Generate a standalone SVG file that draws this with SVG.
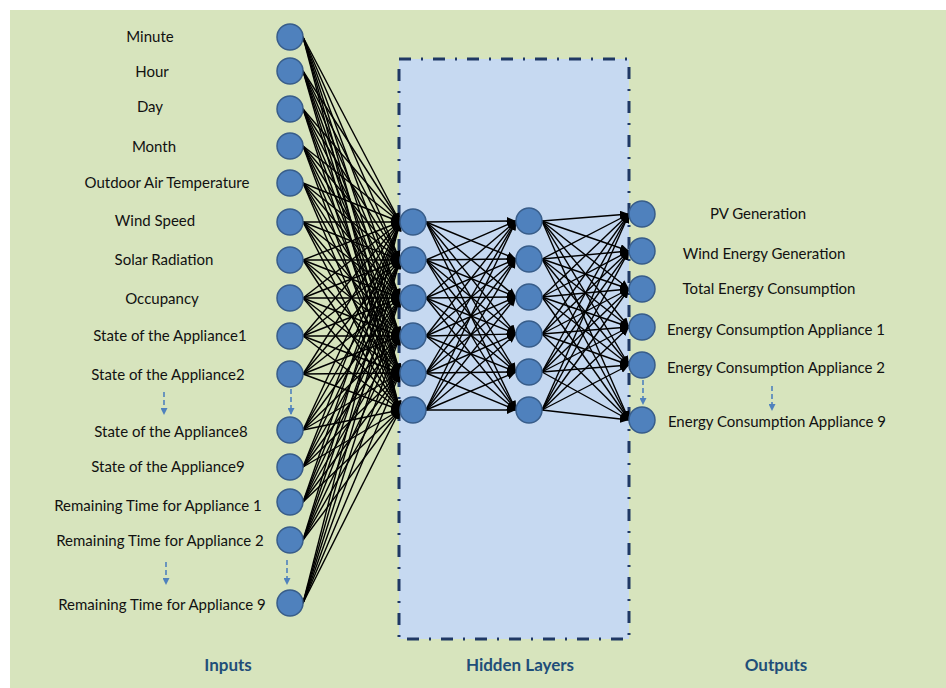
<svg xmlns="http://www.w3.org/2000/svg" width="946" height="688" viewBox="0 0 946 688">
<style>
.lbl{font-family:Lato,"Open Sans","Liberation Sans",sans-serif;font-size:15px;fill:#111;text-anchor:middle}
.ttl{font-family:Lato,"Open Sans","Liberation Sans",sans-serif;font-size:17px;font-weight:bold;fill:#1f4e79;text-anchor:middle}
.n{fill:#4f81bd;stroke:#385d8a;stroke-width:1.5}
.c line{stroke:#000;stroke-width:1.4;marker-end:url(#ah)}
.d{stroke:#4f81bd;stroke-width:1.6;stroke-dasharray:5 3;marker-end:url(#bh)}
</style>
<defs>
<marker id="ah" markerUnits="userSpaceOnUse" markerWidth="9" markerHeight="8" refX="9" refY="4" orient="auto"><path d="M0,0 L9,4 L0,8 z" fill="#000"/></marker>
<marker id="bh" markerUnits="userSpaceOnUse" markerWidth="7" markerHeight="7" refX="6" refY="3.5" orient="auto"><path d="M0,0 L7,3.5 L0,7 z" fill="#4f81bd"/></marker>
</defs>
<rect x="0" y="0" width="946" height="688" fill="#fff"/>
<rect x="10" y="10" width="936" height="678" fill="#d7e4bd"/>
<rect id="hidden-box" x="399" y="59" width="230" height="580" fill="#c6d9f1" stroke="#1f3864" stroke-width="3" stroke-dasharray="12 10 2 10"/>
<g id="connectors" class="c">
<line x1="303" y1="37" x2="400" y2="222"/><line x1="303" y1="37" x2="400" y2="260"/><line x1="303" y1="37" x2="400" y2="298"/><line x1="303" y1="37" x2="400" y2="336"/><line x1="303" y1="37" x2="400" y2="373"/><line x1="303" y1="37" x2="400" y2="410"/>
<line x1="303" y1="71" x2="400" y2="222"/><line x1="303" y1="71" x2="400" y2="260"/><line x1="303" y1="71" x2="400" y2="298"/><line x1="303" y1="71" x2="400" y2="336"/><line x1="303" y1="71" x2="400" y2="373"/><line x1="303" y1="71" x2="400" y2="410"/>
<line x1="303" y1="109" x2="400" y2="222"/><line x1="303" y1="109" x2="400" y2="260"/><line x1="303" y1="109" x2="400" y2="298"/><line x1="303" y1="109" x2="400" y2="336"/><line x1="303" y1="109" x2="400" y2="373"/><line x1="303" y1="109" x2="400" y2="410"/>
<line x1="303" y1="146" x2="400" y2="222"/><line x1="303" y1="146" x2="400" y2="260"/><line x1="303" y1="146" x2="400" y2="298"/><line x1="303" y1="146" x2="400" y2="336"/><line x1="303" y1="146" x2="400" y2="373"/><line x1="303" y1="146" x2="400" y2="410"/>
<line x1="303" y1="183" x2="400" y2="222"/><line x1="303" y1="183" x2="400" y2="260"/><line x1="303" y1="183" x2="400" y2="298"/><line x1="303" y1="183" x2="400" y2="336"/><line x1="303" y1="183" x2="400" y2="373"/><line x1="303" y1="183" x2="400" y2="410"/>
<line x1="303" y1="222" x2="400" y2="222"/><line x1="303" y1="222" x2="400" y2="260"/><line x1="303" y1="222" x2="400" y2="298"/><line x1="303" y1="222" x2="400" y2="336"/><line x1="303" y1="222" x2="400" y2="373"/><line x1="303" y1="222" x2="400" y2="410"/>
<line x1="303" y1="260" x2="400" y2="222"/><line x1="303" y1="260" x2="400" y2="260"/><line x1="303" y1="260" x2="400" y2="298"/><line x1="303" y1="260" x2="400" y2="336"/><line x1="303" y1="260" x2="400" y2="373"/><line x1="303" y1="260" x2="400" y2="410"/>
<line x1="303" y1="298" x2="400" y2="222"/><line x1="303" y1="298" x2="400" y2="260"/><line x1="303" y1="298" x2="400" y2="298"/><line x1="303" y1="298" x2="400" y2="336"/><line x1="303" y1="298" x2="400" y2="373"/><line x1="303" y1="298" x2="400" y2="410"/>
<line x1="303" y1="336" x2="400" y2="222"/><line x1="303" y1="336" x2="400" y2="260"/><line x1="303" y1="336" x2="400" y2="298"/><line x1="303" y1="336" x2="400" y2="336"/><line x1="303" y1="336" x2="400" y2="373"/><line x1="303" y1="336" x2="400" y2="410"/>
<line x1="303" y1="374" x2="400" y2="222"/><line x1="303" y1="374" x2="400" y2="260"/><line x1="303" y1="374" x2="400" y2="298"/><line x1="303" y1="374" x2="400" y2="336"/><line x1="303" y1="374" x2="400" y2="373"/><line x1="303" y1="374" x2="400" y2="410"/>
<line x1="303" y1="430" x2="400" y2="222"/><line x1="303" y1="430" x2="400" y2="260"/><line x1="303" y1="430" x2="400" y2="298"/><line x1="303" y1="430" x2="400" y2="336"/><line x1="303" y1="430" x2="400" y2="373"/><line x1="303" y1="430" x2="400" y2="410"/>
<line x1="303" y1="467" x2="400" y2="222"/><line x1="303" y1="467" x2="400" y2="260"/><line x1="303" y1="467" x2="400" y2="298"/><line x1="303" y1="467" x2="400" y2="336"/><line x1="303" y1="467" x2="400" y2="373"/><line x1="303" y1="467" x2="400" y2="410"/>
<line x1="303" y1="502" x2="400" y2="222"/><line x1="303" y1="502" x2="400" y2="260"/><line x1="303" y1="502" x2="400" y2="298"/><line x1="303" y1="502" x2="400" y2="336"/><line x1="303" y1="502" x2="400" y2="373"/><line x1="303" y1="502" x2="400" y2="410"/>
<line x1="303" y1="540" x2="400" y2="222"/><line x1="303" y1="540" x2="400" y2="260"/><line x1="303" y1="540" x2="400" y2="298"/><line x1="303" y1="540" x2="400" y2="336"/><line x1="303" y1="540" x2="400" y2="373"/><line x1="303" y1="540" x2="400" y2="410"/>
<line x1="303" y1="603" x2="400" y2="222"/><line x1="303" y1="603" x2="400" y2="260"/><line x1="303" y1="603" x2="400" y2="298"/><line x1="303" y1="603" x2="400" y2="336"/><line x1="303" y1="603" x2="400" y2="373"/><line x1="303" y1="603" x2="400" y2="410"/>
<line x1="426" y1="222" x2="516" y2="221"/><line x1="426" y1="222" x2="516" y2="259"/><line x1="426" y1="222" x2="516" y2="297"/><line x1="426" y1="222" x2="516" y2="334"/><line x1="426" y1="222" x2="516" y2="372"/><line x1="426" y1="222" x2="516" y2="410"/>
<line x1="426" y1="260" x2="516" y2="221"/><line x1="426" y1="260" x2="516" y2="259"/><line x1="426" y1="260" x2="516" y2="297"/><line x1="426" y1="260" x2="516" y2="334"/><line x1="426" y1="260" x2="516" y2="372"/><line x1="426" y1="260" x2="516" y2="410"/>
<line x1="426" y1="298" x2="516" y2="221"/><line x1="426" y1="298" x2="516" y2="259"/><line x1="426" y1="298" x2="516" y2="297"/><line x1="426" y1="298" x2="516" y2="334"/><line x1="426" y1="298" x2="516" y2="372"/><line x1="426" y1="298" x2="516" y2="410"/>
<line x1="426" y1="336" x2="516" y2="221"/><line x1="426" y1="336" x2="516" y2="259"/><line x1="426" y1="336" x2="516" y2="297"/><line x1="426" y1="336" x2="516" y2="334"/><line x1="426" y1="336" x2="516" y2="372"/><line x1="426" y1="336" x2="516" y2="410"/>
<line x1="426" y1="373" x2="516" y2="221"/><line x1="426" y1="373" x2="516" y2="259"/><line x1="426" y1="373" x2="516" y2="297"/><line x1="426" y1="373" x2="516" y2="334"/><line x1="426" y1="373" x2="516" y2="372"/><line x1="426" y1="373" x2="516" y2="410"/>
<line x1="426" y1="410" x2="516" y2="221"/><line x1="426" y1="410" x2="516" y2="259"/><line x1="426" y1="410" x2="516" y2="297"/><line x1="426" y1="410" x2="516" y2="334"/><line x1="426" y1="410" x2="516" y2="372"/><line x1="426" y1="410" x2="516" y2="410"/>
<line x1="542" y1="221" x2="629" y2="214"/><line x1="542" y1="221" x2="629" y2="251"/><line x1="542" y1="221" x2="629" y2="289"/><line x1="542" y1="221" x2="629" y2="327"/><line x1="542" y1="221" x2="629" y2="365"/><line x1="542" y1="221" x2="629" y2="420"/>
<line x1="542" y1="259" x2="629" y2="214"/><line x1="542" y1="259" x2="629" y2="251"/><line x1="542" y1="259" x2="629" y2="289"/><line x1="542" y1="259" x2="629" y2="327"/><line x1="542" y1="259" x2="629" y2="365"/><line x1="542" y1="259" x2="629" y2="420"/>
<line x1="542" y1="297" x2="629" y2="214"/><line x1="542" y1="297" x2="629" y2="251"/><line x1="542" y1="297" x2="629" y2="289"/><line x1="542" y1="297" x2="629" y2="327"/><line x1="542" y1="297" x2="629" y2="365"/><line x1="542" y1="297" x2="629" y2="420"/>
<line x1="542" y1="334" x2="629" y2="214"/><line x1="542" y1="334" x2="629" y2="251"/><line x1="542" y1="334" x2="629" y2="289"/><line x1="542" y1="334" x2="629" y2="327"/><line x1="542" y1="334" x2="629" y2="365"/><line x1="542" y1="334" x2="629" y2="420"/>
<line x1="542" y1="372" x2="629" y2="214"/><line x1="542" y1="372" x2="629" y2="251"/><line x1="542" y1="372" x2="629" y2="289"/><line x1="542" y1="372" x2="629" y2="327"/><line x1="542" y1="372" x2="629" y2="365"/><line x1="542" y1="372" x2="629" y2="420"/>
<line x1="542" y1="410" x2="629" y2="214"/><line x1="542" y1="410" x2="629" y2="251"/><line x1="542" y1="410" x2="629" y2="289"/><line x1="542" y1="410" x2="629" y2="327"/><line x1="542" y1="410" x2="629" y2="365"/><line x1="542" y1="410" x2="629" y2="420"/>
</g>
<g id="continuation-arrows">
<line class="d" x1="164" y1="392" x2="164" y2="414"/>
<line class="d" x1="291" y1="389" x2="291" y2="414"/>
<line class="d" x1="166" y1="562" x2="166" y2="584"/>
<line class="d" x1="287" y1="560" x2="287" y2="584"/>
<line class="d" x1="643" y1="380" x2="643" y2="404"/>
<line class="d" x1="772" y1="386" x2="772" y2="410"/>
</g>
<g id="in-minute"><circle class="n" cx="290" cy="37" r="13"/><text class="lbl" x="150" y="42">Minute</text></g>
<g id="in-hour"><circle class="n" cx="290" cy="71" r="13"/><text class="lbl" x="152" y="77">Hour</text></g>
<g id="in-day"><circle class="n" cx="290" cy="109" r="13"/><text class="lbl" x="150" y="112">Day</text></g>
<g id="in-month"><circle class="n" cx="290" cy="146" r="13"/><text class="lbl" x="154" y="152">Month</text></g>
<g id="in-temp"><circle class="n" cx="290" cy="183" r="13"/><text class="lbl" x="167" y="188">Outdoor Air Temperature</text></g>
<g id="in-wind"><circle class="n" cx="290" cy="222" r="13"/><text class="lbl" x="155" y="226">Wind Speed</text></g>
<g id="in-solar"><circle class="n" cx="290" cy="260" r="13"/><text class="lbl" x="164" y="265">Solar Radiation</text></g>
<g id="in-occ"><circle class="n" cx="290" cy="298" r="13"/><text class="lbl" x="162" y="304">Occupancy</text></g>
<g id="in-st1"><circle class="n" cx="290" cy="336" r="13"/><text class="lbl" x="170" y="341">State of the Appliance1</text></g>
<g id="in-st2"><circle class="n" cx="290" cy="374" r="13"/><text class="lbl" x="168" y="380">State of the Appliance2</text></g>
<g id="in-st8"><circle class="n" cx="290" cy="430" r="13"/><text class="lbl" x="171" y="437">State of the Appliance8</text></g>
<g id="in-st9"><circle class="n" cx="290" cy="467" r="13"/><text class="lbl" x="168" y="472">State of the Appliance9</text></g>
<g id="in-rt1"><circle class="n" cx="290" cy="502" r="13"/><text class="lbl" x="158" y="511">Remaining Time for Appliance 1</text></g>
<g id="in-rt2"><circle class="n" cx="290" cy="540" r="13"/><text class="lbl" x="160" y="546">Remaining Time for Appliance 2</text></g>
<g id="in-rt9"><circle class="n" cx="290" cy="603" r="13"/><text class="lbl" x="162" y="610">Remaining Time for Appliance 9</text></g>
<g id="h1-1"><circle class="n" cx="413" cy="222" r="13"/></g>
<g id="h1-2"><circle class="n" cx="413" cy="260" r="13"/></g>
<g id="h1-3"><circle class="n" cx="413" cy="298" r="13"/></g>
<g id="h1-4"><circle class="n" cx="413" cy="336" r="13"/></g>
<g id="h1-5"><circle class="n" cx="413" cy="373" r="13"/></g>
<g id="h1-6"><circle class="n" cx="413" cy="410" r="13"/></g>
<g id="h2-1"><circle class="n" cx="529" cy="221" r="13"/></g>
<g id="h2-2"><circle class="n" cx="529" cy="259" r="13"/></g>
<g id="h2-3"><circle class="n" cx="529" cy="297" r="13"/></g>
<g id="h2-4"><circle class="n" cx="529" cy="334" r="13"/></g>
<g id="h2-5"><circle class="n" cx="529" cy="372" r="13"/></g>
<g id="h2-6"><circle class="n" cx="529" cy="410" r="13"/></g>
<g id="out-pv"><circle class="n" cx="642" cy="214" r="13"/><text class="lbl" x="758" y="219">PV Generation</text></g>
<g id="out-wind"><circle class="n" cx="642" cy="251" r="13"/><text class="lbl" x="764" y="259">Wind Energy Generation</text></g>
<g id="out-total"><circle class="n" cx="642" cy="289" r="13"/><text class="lbl" x="769" y="294">Total Energy Consumption</text></g>
<g id="out-a1"><circle class="n" cx="642" cy="327" r="13"/><text class="lbl" x="776" y="335">Energy Consumption Appliance 1</text></g>
<g id="out-a2"><circle class="n" cx="642" cy="365" r="13"/><text class="lbl" x="776" y="373">Energy Consumption Appliance 2</text></g>
<g id="out-a9"><circle class="n" cx="642" cy="420" r="13"/><text class="lbl" x="777" y="427">Energy Consumption Appliance 9</text></g>
<g id="titles">
<text class="ttl" x="228" y="671">Inputs</text>
<text class="ttl" x="520" y="671">Hidden Layers</text>
<text class="ttl" x="776" y="671">Outputs</text>
</g>
</svg>
